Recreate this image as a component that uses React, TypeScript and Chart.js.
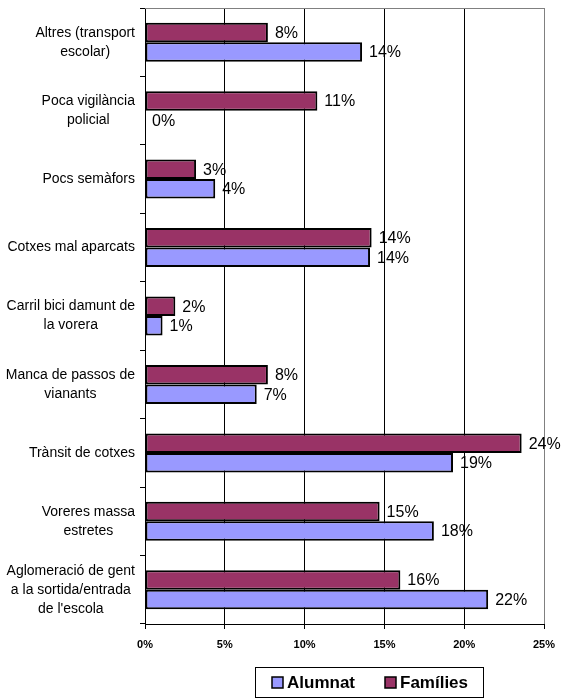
import React, { useEffect, useRef } from "react";
import { Chart, registerables } from "chart.js";

Chart.register(...registerables);

const categories: string[][] = [
  ["Altres (transport", "escolar)"],
  ["Poca vigilància", "policial"],
  ["Pocs semàfors"],
  ["Cotxes mal aparcats"],
  ["Carril bici damunt de", "la vorera"],
  ["Manca de passos de", "vianants"],
  ["Trànsit de cotxes"],
  ["Voreres massa", "estretes"],
  ["Aglomeració de gent", "a la sortida/entrada", "de l'escola"],
];

const familiesValues = [7.7, 10.8, 3.2, 14.2, 1.9, 7.7, 23.6, 14.7, 16.0];
const alumnatValues = [13.6, 0, 4.4, 14.1, 1.1, 7.0, 19.3, 18.1, 21.5];
const xTicks = [0, 5, 10, 15, 20, 25];

const FAM_COLOR = "#993366";
const ALU_COLOR = "#9999FF";
const FONT = "Arial, 'Liberation Sans', sans-serif";

const labelsPlugin = {
  id: "customDraw",
  afterDraw(chart: any) {
    const ctx = chart.ctx;
    const area = chart.chartArea;
    const yScale = chart.scales.y;
    ctx.save();
    // top & right gray border
    ctx.strokeStyle = "#808080";
    ctx.lineWidth = 1;
    ctx.beginPath();
    ctx.moveTo(area.left, area.top + 0.5);
    ctx.lineTo(area.right + 0.5, area.top + 0.5);
    ctx.lineTo(area.right + 0.5, area.bottom);
    ctx.stroke();

    // category labels (block right-aligned, lines centered)
    ctx.font = `14px ${FONT}`;
    ctx.fillStyle = "#000";
    ctx.textBaseline = "middle";
    ctx.textAlign = "center";
    const lh = 19;
    categories.forEach((lines, i) => {
      const cy = yScale.getPixelForValue(i);
      const w = Math.max(...lines.map((l) => ctx.measureText(l).width));
      const cx = area.left - 10 - w / 2;
      const y0 = cy - ((lines.length - 1) * lh) / 2;
      lines.forEach((l, j) => ctx.fillText(l, cx, y0 + j * lh));
    });

    // data labels
    ctx.font = `16px ${FONT}`;
    ctx.textAlign = "left";
    chart.data.datasets.forEach((ds: any, di: number) => {
      const meta = chart.getDatasetMeta(di);
      meta.data.forEach((bar: any, i: number) => {
        const v = ds.data[i];
        ctx.fillText(Math.round(v) + "%", bar.x + 7, bar.y + 1);
      });
    });

    // legend
    const lx = 255, ly = 667, lw = 228, lhgt = 30;
    ctx.strokeStyle = "#000";
    ctx.lineWidth = 1;
    ctx.fillStyle = "#fff";
    ctx.fillRect(lx, ly, lw, lhgt);
    ctx.strokeRect(lx + 0.5, ly + 0.5, lw, lhgt);
    const items = [
      { label: "Alumnat", color: ALU_COLOR, x: 272 },
      { label: "Famílies", color: FAM_COLOR, x: 385 },
    ];
    ctx.font = `bold 17px ${FONT}`;
    ctx.textBaseline = "middle";
    items.forEach((it) => {
      ctx.fillStyle = it.color;
      ctx.fillRect(it.x, 677, 11, 11);
      ctx.lineWidth = 1.5;
      ctx.strokeStyle = "#000";
      ctx.strokeRect(it.x, 677, 11, 11);
      ctx.fillStyle = "#000";
      ctx.fillText(it.label, it.x + 15, 683);
    });
    ctx.restore();
  },
};

export default function App() {
  const ref = useRef<HTMLCanvasElement | null>(null);
  useEffect(() => {
    if (!ref.current) return;
    const chart = new Chart(ref.current, {
      type: "bar",
      data: {
        labels: categories.map((c) => c.join(" ")),
        datasets: [
          {
            label: "Famílies",
            data: familiesValues,
            backgroundColor: FAM_COLOR,
            borderColor: "#000",
            borderWidth: 2,
            borderSkipped: false,
            categoryPercentage: 0.57,
            barPercentage: 1,
          },
          {
            label: "Alumnat",
            data: alumnatValues,
            backgroundColor: ALU_COLOR,
            borderColor: "#000",
            borderWidth: 2,
            borderSkipped: false,
            categoryPercentage: 0.57,
            barPercentage: 1,
          },
        ],
      },
      options: {
        indexAxis: "y",
        responsive: false,
        animation: false,
        layout: { padding: { top: 8, right: 26, left: 0, bottom: 0 } },
        plugins: { legend: { display: false }, tooltip: { enabled: false } },
        scales: {
          x: {
            min: 0,
            max: 25,
            afterBuildTicks: (s: any) => {
              s.ticks = xTicks.map((v) => ({ value: v }));
            },
            afterFit: (s: any) => {
              s.height = 75;
            },
            grid: {
              color: (c: any) => (c.tick && c.tick.value === 25 ? "#808080" : "#000"),
              tickColor: "#000",
              tickLength: 5,
              lineWidth: 1,
            },
            border: { color: "#000", width: 1 },
            ticks: {
              padding: 9,
              color: "#000",
              font: { family: FONT, size: 11, weight: "bold" },
              callback: (v: any) => v + "%",
            },
          },
          y: {
            afterFit: (s: any) => {
              s.width = 145;
            },
            grid: {
              offset: true,
              drawOnChartArea: false,
              drawTicks: true,
              tickLength: 5,
              color: "#000",
            },
            border: { color: "#000", width: 1 },
            ticks: { display: false },
          },
        },
      },
      plugins: [labelsPlugin],
    } as any);
    return () => chart.destroy();
  }, []);
  return (
    <div style={{ position: "fixed", left: 0, top: 0, width: 570, height: 699, background: "#fff" }}>
      <canvas ref={ref} width={570} height={699} style={{ width: 570, height: 699 }} />
    </div>
  );
}
